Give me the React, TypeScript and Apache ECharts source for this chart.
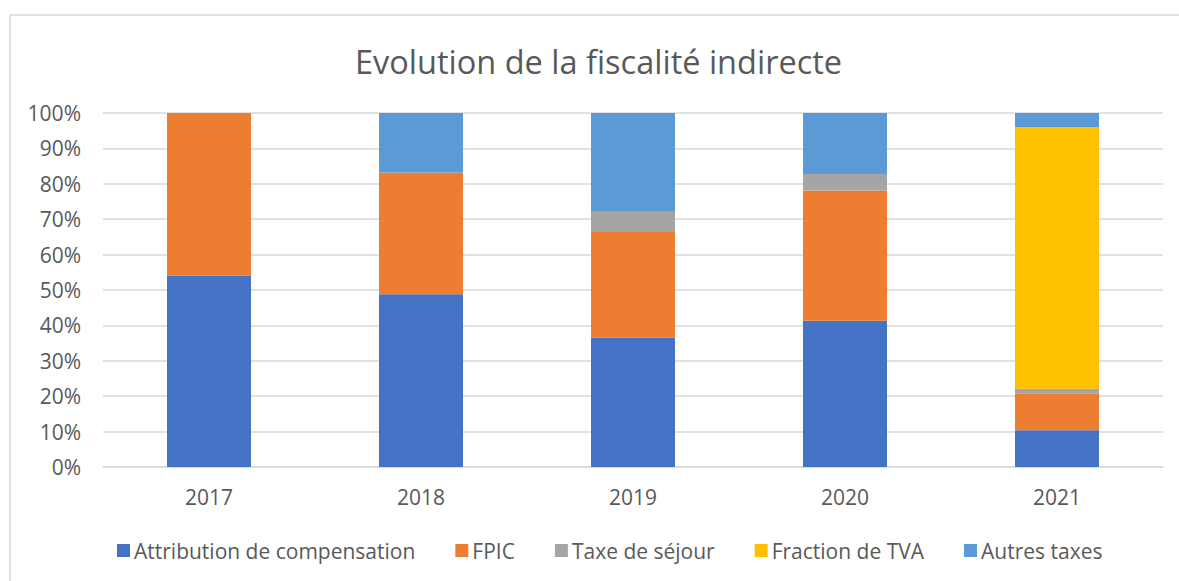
import React, { useEffect, useRef } from "react";
import * as echarts from "echarts";

const categories = ["2017", "2018", "2019", "2020", "2021"];
const attribution = [54.1, 48.8, 36.5, 41.3, 10.4];
const fpic = [45.9, 34.4, 29.9, 36.8, 10.3];
const taxeSejour = [0, 0, 5.9, 4.7, 1.4];
const fractionTVA = [0, 0, 0, 0, 73.9];
const autresTaxes = [0, 16.8, 27.7, 17.2, 4.0];
const yTicks = [0, 10, 20, 30, 40, 50, 60, 70, 80, 90, 100];

const seriesDefs = [
  { name: "Attribution de compensation", data: attribution, color: "#4472C4" },
  { name: "FPIC", data: fpic, color: "#ED7D31" },
  { name: "Taxe de séjour", data: taxeSejour, color: "#A5A5A5" },
  { name: "Fraction de TVA", data: fractionTVA, color: "#FFC000" },
  { name: "Autres taxes", data: autresTaxes, color: "#5B9BD5" },
];

const FONT = "'Open Sans', sans-serif";
const TXT = "#595959";

export default function App() {
  const ref = useRef<HTMLDivElement>(null);
  useEffect(() => {
    if (!ref.current) return;
    const chart = echarts.init(ref.current, undefined, { renderer: "svg" });
    chart.setOption({
      animation: false,
      backgroundColor: "#ffffff",
      title: {
        text: "Evolution de la fiscalité indirecte",
        left: 350,
        top: 40,
        textStyle: { fontFamily: FONT, fontSize: 32.5, fontWeight: "normal", color: TXT },
      },
      graphic: [
        {
          type: "rect",
          shape: { x: 10, y: 15, width: 1300, height: 700 },
          style: { fill: "none", stroke: "#d9d9d9", lineWidth: 1.5 },
          silent: true,
          z: -10,
        },
      ],
      legend: {
        top: 535,
        left: 112,
        itemWidth: 13,
        itemHeight: 13,
        itemGap: 40,
        icon: "rect",
        textStyle: { fontFamily: FONT, fontSize: 21, color: TXT, padding: [0, 0, 0, -1] },
        data: seriesDefs.map((s) => s.name),
      },
      grid: { left: 103, right: 16, top: 113, bottom: 114, containLabel: false },
      xAxis: {
        type: "category",
        data: categories,
        axisLine: { lineStyle: { color: "#d9d9d9", width: 1.5 } },
        axisTick: { show: false },
        axisLabel: { fontFamily: FONT, fontSize: 21, color: TXT, margin: 19 },
      },
      yAxis: {
        type: "value",
        min: 0,
        max: 100,
        interval: 10,
        axisLine: { show: false },
        axisTick: { show: false },
        splitLine: { lineStyle: { color: "#d9d9d9", width: 1.5 } },
        axisLabel: {
          fontFamily: FONT,
          fontSize: 21,
          color: TXT,
          margin: 22,
          formatter: (v: number) => (yTicks.includes(v) ? `${v}%` : ""),
        },
      },
      series: seriesDefs.map((s) => ({
        name: s.name,
        type: "bar",
        stack: "total",
        barWidth: 84,
        data: s.data,
        itemStyle: { color: s.color },
      })),
    });
    return () => chart.dispose();
  }, []);
  return (
    <div
      ref={ref}
      style={{ position: "fixed", left: 0, top: 0, width: 1179, height: 581 }}
    />
  );
}
